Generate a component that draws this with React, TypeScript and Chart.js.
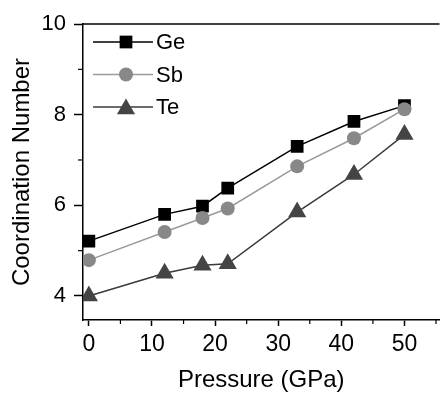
import React, { useEffect, useRef } from "react";
import { Chart, registerables } from "chart.js";

Chart.register(...registerables);

const pressure = [0, 12, 18, 22, 33, 42, 50];
const geValues = [5.21, 5.8, 5.98, 6.38, 7.3, 7.85, 8.2];
const sbValues = [4.79, 5.41, 5.72, 5.93, 6.86, 7.48, 8.12];
const teValues = [4.0, 4.5, 4.68, 4.71, 5.85, 6.68, 7.56];
const seriesNames = ["Ge", "Sb", "Te"];
const xTicks = [0, 10, 20, 30, 40, 50];
const xMinorTicks = [5, 15, 25, 35, 45, 55];
const yTicks = [4, 6, 8, 10];
const yMinorTicks = [5, 7, 9];
const xTitle = "Pressure (GPa)";
const yTitle = "Coordination Number";

const FONT = "'Liberation Sans', Arial, Helvetica, sans-serif";

function drawMarker(ctx: CanvasRenderingContext2D, style: string, x: number, y: number, r: number) {
  ctx.beginPath();
  if (style === "rect") {
    const s = Math.SQRT1_2 * r;
    ctx.rect(x - s, y - s, 2 * s, 2 * s);
  } else if (style === "circle") {
    ctx.arc(x, y, r, 0, Math.PI * 2);
  } else if (style === "triangle") {
    const edge = (3 * r) / Math.sqrt(3);
    const h = (edge * Math.sqrt(3)) / 2;
    ctx.moveTo(x - edge / 2, y + h / 3);
    ctx.lineTo(x + edge / 2, y + h / 3);
    ctx.lineTo(x, y - (2 * h) / 3);
    ctx.closePath();
  }
  ctx.fill();
}

const framePlugin = {
  id: "frameAndLegend",
  afterDraw(chart: any) {
    const ctx = chart.ctx as CanvasRenderingContext2D;
    const { left, right, top, bottom } = chart.chartArea;
    ctx.save();
    ctx.strokeStyle = "#000";
    ctx.lineWidth = 1.5;
    ctx.beginPath();
    ctx.moveTo(left, top);
    ctx.lineTo(right, top);
    ctx.stroke();
    const xs = chart.scales.x;
    const ys = chart.scales.y;
    ctx.lineWidth = 1.2;
    xMinorTicks.forEach((v) => {
      const px = xs.getPixelForValue(v);
      if (px < left || px > right) return;
      ctx.beginPath();
      ctx.moveTo(px, bottom);
      ctx.lineTo(px, bottom + 4);
      ctx.stroke();
    });
    yMinorTicks.forEach((v) => {
      const py = ys.getPixelForValue(v);
      ctx.beginPath();
      ctx.moveTo(left, py);
      ctx.lineTo(left - 5, py);
      ctx.stroke();
    });
    const x0 = left + 10;
    const x1 = left + 70;
    const mx = left + 43;
    chart.data.datasets.forEach((ds: any, i: number) => {
      const y = top + 18 + i * 32.5;
      ctx.strokeStyle = ds.borderColor;
      ctx.lineWidth = ds.borderWidth;
      ctx.beginPath();
      ctx.moveTo(x0, y);
      ctx.lineTo(x1, y);
      ctx.stroke();
      ctx.fillStyle = ds.pointBackgroundColor;
      drawMarker(ctx, ds.pointStyle, mx, ds.pointStyle === "triangle" ? y + 2 : y, ds.pointRadius);
      ctx.fillStyle = "#000";
      ctx.font = `22px ${FONT}`;
      ctx.textBaseline = "middle";
      ctx.textAlign = "left";
      ctx.fillText(ds.label, x1 + 3, y + 1);
    });
    ctx.restore();
  },
};

export default function App() {
  const canvasRef = useRef<HTMLCanvasElement | null>(null);

  useEffect(() => {
    if (!canvasRef.current) return;
    const chart = new Chart(canvasRef.current, {
      type: "line",
      data: {
        datasets: [
          {
            label: seriesNames[0],
            data: pressure.map((p, i) => ({ x: p, y: geValues[i] })),
            borderColor: "#000000",
            backgroundColor: "#000000",
            pointBackgroundColor: "#000000",
            pointBorderColor: "#000000",
            pointBorderWidth: 0,
            pointStyle: "rect",
            pointRadius: 9,
            borderWidth: 1.5,
            order: 2,
          },
          {
            label: seriesNames[1],
            data: pressure.map((p, i) => ({ x: p, y: sbValues[i] })),
            borderColor: "#9a9a9a",
            backgroundColor: "#888888",
            pointBackgroundColor: "#888888",
            pointBorderColor: "#888888",
            pointBorderWidth: 0,
            pointStyle: "circle",
            pointRadius: 7,
            borderWidth: 1.5,
            order: 1,
          },
          {
            label: seriesNames[2],
            data: pressure.map((p, i) => ({ x: p, y: teValues[i] })),
            borderColor: "#3a3a3a",
            backgroundColor: "#444444",
            pointBackgroundColor: "#444444",
            pointBorderColor: "#444444",
            pointBorderWidth: 0,
            pointStyle: "triangle",
            pointRadius: 10.5,
            borderWidth: 1.5,
            order: 0,
          },
        ] as any,
      },
      options: {
        animation: false,
        responsive: false,
        maintainAspectRatio: false,
        layout: { padding: { top: 24, right: 1, left: 0, bottom: 0 } },
        plugins: {
          legend: { display: false },
          tooltip: { enabled: false },
        },
        scales: {
          x: {
            type: "linear",
            min: -0.93,
            max: 55.55,
            afterFit: (s: any) => {
              s.height = 73;
            },
            afterBuildTicks: (s: any) => {
              s.ticks = xTicks.map((v) => ({ value: v }));
            },
            grid: {
              drawOnChartArea: false,
              drawTicks: true,
              tickLength: 6,
              tickWidth: 1.5,
              tickColor: "#000",
            },
            border: { display: true, color: "#000", width: 1.5 },
            ticks: {
              color: "#000",
              font: { family: FONT, size: 23 },
              padding: 5,
              maxRotation: 0,
              autoSkip: false,
            },
            title: {
              display: true,
              text: xTitle,
              color: "#000",
              font: { family: FONT, size: 24, lineHeight: 1 },
              padding: { top: 0, bottom: 1 },
            },
          },
          y: {
            type: "linear",
            min: 3.47,
            max: 10,
            afterFit: (s: any) => {
              s.width = 83;
            },
            afterBuildTicks: (s: any) => {
              s.ticks = yTicks.map((v) => ({ value: v }));
            },
            grid: {
              drawOnChartArea: false,
              drawTicks: true,
              tickLength: 9,
              tickWidth: 1.5,
              tickColor: "#000",
            },
            border: { display: true, color: "#000", width: 1.5 },
            ticks: {
              color: "#000",
              font: { family: FONT, size: 22 },
              padding: 8,
              autoSkip: false,
            },
            title: {
              display: true,
              text: yTitle,
              color: "#000",
              font: { family: FONT, size: 24, lineHeight: 1 },
              padding: { top: 10, bottom: 0 },
            },
          },
        },
      } as any,
      plugins: [framePlugin],
    });
    return () => chart.destroy();
  }, []);

  return (
    <div
      style={{
        position: "fixed",
        left: 0,
        top: 0,
        width: 445,
        height: 393,
        overflow: "hidden",
        background: "#fff",
      }}
    >
      <canvas ref={canvasRef} width={450} height={393} style={{ display: "block", width: 450, height: 393 }} />
    </div>
  );
}
